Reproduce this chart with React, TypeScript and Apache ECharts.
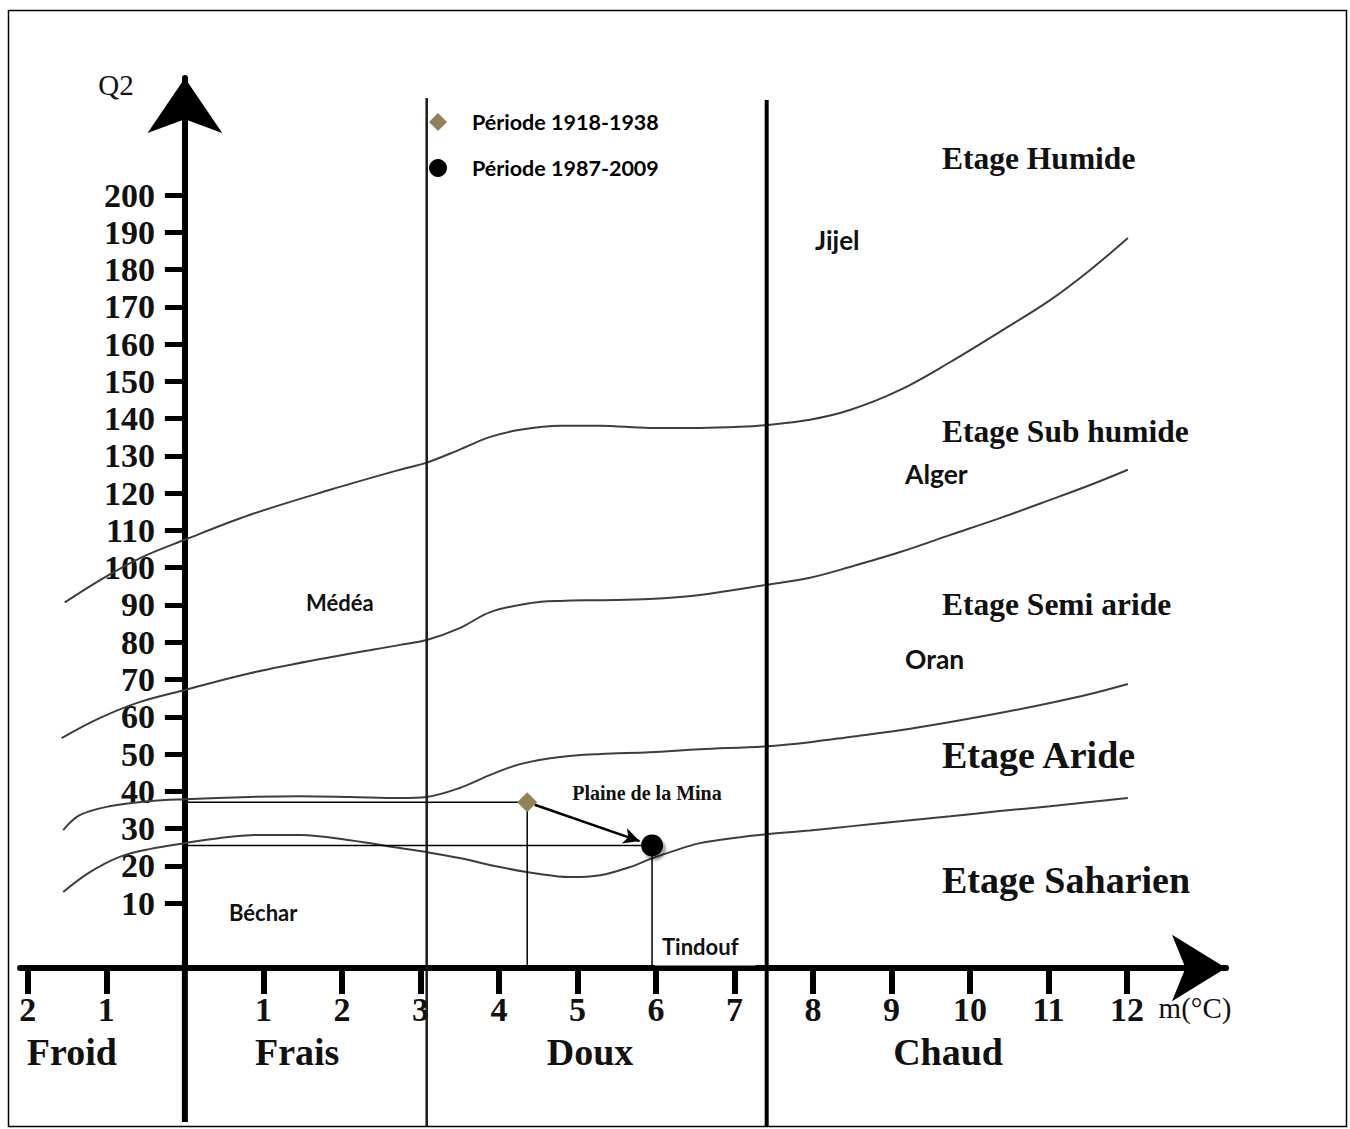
import React, { useEffect, useRef } from 'react';
import * as echarts from 'echarts';

// Axis ranges (m in °C on x, Q2 on y)
const X_MIN = -2.1;
const X_MAX = 13.26;
const Y_MIN = -7.4;
const Y_MAX = 231.4;
const X_TICKS = [-2, -1, 1, 2, 3, 4, 5, 6, 7, 8, 9, 10, 11, 12];
const Y_TICKS = [10, 20, 30, 40, 50, 60, 70, 80, 90, 100, 110, 120, 130, 140, 150, 160, 170, 180, 190, 200];

// Boundary curves between bioclimatic stages [m, Q2]
const LIMIT_HUMIDE_SUBHUMIDE: [number, number][] = [
  [-1.53, 90.7], [-1.08, 96.7], [-0.57, 102.6], [0, 107.5], [0.83, 114.2], [1.85, 120.9],
  [2.74, 126.3], [3.08, 128.2], [3.5, 131.7], [3.89, 135.1], [4.27, 137.0], [4.78, 138.1],
  [5.29, 138.1], [5.92, 137.5], [6.56, 137.5], [7.07, 137.8], [7.41, 138.3], [7.96, 139.7],
  [8.47, 142.3], [9.11, 147.7], [9.75, 155.2], [10.38, 163.3], [11.02, 171.8], [11.53, 179.9], [12.01, 188.5],
];
const LIMIT_SUBHUMIDE_SEMIARIDE: [number, number][] = [
  [-1.57, 54.3], [-1.08, 59.7], [-0.57, 64.0], [0, 67.2], [0.83, 71.7], [1.85, 76.0],
  [2.74, 79.3], [3.08, 80.6], [3.5, 83.8], [3.89, 88.1], [4.4, 90.5], [4.78, 91.1],
  [5.29, 91.3], [5.92, 91.6], [6.56, 92.7], [7.41, 95.4], [7.96, 97.3], [8.47, 100.2],
  [9.11, 104.2], [9.75, 108.8], [10.38, 113.3], [11.02, 118.2], [11.53, 122.2], [12.01, 126.3],
];
const LIMIT_SEMIARIDE_ARIDE: [number, number][] = [
  [-1.55, 29.6], [-1.34, 33.6], [-0.96, 36.0], [-0.45, 37.4], [0, 37.9], [0.83, 38.5],
  [1.46, 38.7], [2.1, 38.5], [2.74, 38.2], [3.08, 38.5], [3.5, 40.9], [3.89, 44.4],
  [4.27, 47.3], [4.78, 49.2], [5.29, 50.0], [5.92, 50.5], [6.56, 51.3], [7.41, 52.1],
  [7.96, 53.2], [8.47, 54.6], [9.11, 56.4], [9.75, 58.6], [10.38, 61.0], [11.02, 63.7],
  [11.53, 66.1], [12.01, 68.8],
];
const LIMIT_ARIDE_SAHARIEN: [number, number][] = [
  [-1.55, 13.0], [-1.21, 18.3], [-0.83, 22.4], [-0.45, 24.5], [0, 26.1], [0.45, 27.5],
  [0.96, 28.3], [1.47, 28.3], [2.1, 26.9], [2.74, 24.8], [3.08, 23.7], [3.5, 22.1],
  [4.01, 19.7], [4.52, 17.8], [4.9, 17.0], [5.29, 17.5], [5.67, 19.7], [5.92, 21.8],
  [6.18, 23.7], [6.56, 26.1], [7.07, 27.7], [7.41, 28.5], [7.96, 29.5], [8.47, 30.6],
  [9.11, 32.0], [9.75, 33.3], [10.38, 34.7], [11.02, 36.0], [12.01, 38.2],
];

// Plaine de la Mina
const POINT_1918: [number, number] = [4.36, 37.1];
const POINT_1987: [number, number] = [5.95, 25.5];
const SERIES_NAMES = ['Période 1918-1938', 'Période 1987-2009'];

// Thermal class separators and labels
const SEPARATORS = [3.08, 7.41];
const CLASS_NAMES = ['Froid', 'Frais', 'Doux', 'Chaud'];
const CLASS_CENTERS = [-1.44, 1.43, 5.16, 9.72];

const STAGE_LABELS = ['Etage Humide', 'Etage Sub humide', 'Etage Semi aride', 'Etage Aride', 'Etage Saharien'];
const STATION_LABELS = ['Jijel', 'Alger', 'Oran', 'Médéa', 'Béchar', 'Tindouf'];

const SERIF = '"Liberation Serif", "Times New Roman", serif';
const SANS = 'Lato, "Noto Sans", sans-serif';

const GRID_LEFT = 20;

const curve = (name: string, data: [number, number][]) => ({
  name,
  type: 'line',
  data,
  smooth: 0.35,
  showSymbol: false,
  silent: true,
  z: 1,
  lineStyle: { color: '#3d3d3d', width: 2 },
});

const guide = (p: [number, number]) => [[0, p[1]], [p[0], p[1]], [p[0], Y_MIN]];

export default function App() {
  const ref = useRef<HTMLDivElement>(null);

  useEffect(() => {
    if (!ref.current) return;
    const chart = echarts.init(ref.current, null, { renderer: 'svg' });
    const dx = POINT_1987[0] - POINT_1918[0];
    const dy = POINT_1987[1] - POINT_1918[1];
    const arrowStart = [POINT_1918[0] + dx * 0.06, POINT_1918[1] + dy * 0.06];
    const arrowEnd = [POINT_1918[0] + dx * 0.9, POINT_1918[1] + dy * 0.9];

    const option: any = {
      animation: false,
      backgroundColor: '#ffffff',
      grid: { left: GRID_LEFT, right: 124, top: 78, bottom: 161, containLabel: false, outerBoundsMode: 'none' },
      legend: {
        data: SERIES_NAMES,
        orient: 'vertical',
        left: 424,
        top: 106,
        itemWidth: 18,
        itemHeight: 18,
        itemGap: 24,
        textStyle: { fontFamily: SANS, fontWeight: 'bold', fontSize: 21.5, color: '#000', padding: [0, 0, 0, 20] },
        selectedMode: false,
      },
      xAxis: {
        type: 'value',
        min: X_MIN,
        max: X_MAX,
        splitLine: { show: false },
        axisLine: {
          onZero: false,
          lineStyle: { color: '#000', width: 6 },
          symbol: ['none', 'arrow'],
          symbolSize: [50, 54],
        },
        axisTick: { customValues: X_TICKS, length: 26, lineStyle: { color: '#000', width: 6 } },
        axisLabel: {
          customValues: X_TICKS,
          formatter: (v: number) => String(Math.abs(v)),
          margin: 24,
          fontFamily: SERIF,
          fontWeight: 'bold',
          fontSize: 34,
          color: '#111',
        },
      },
      yAxis: {
        type: 'value',
        min: Y_MIN,
        max: Y_MAX,
        splitLine: { show: false },
        axisLine: {
          onZero: true,
          lineStyle: { color: '#000', width: 6 },
          symbol: ['none', 'arrow'],
          symbolSize: [56, 55],
        },
        axisTick: { customValues: Y_TICKS, length: 20, lineStyle: { color: '#000', width: 5 } },
        axisLabel: {
          customValues: Y_TICKS,
          // labels stay at the grid edge; shift them next to the axis crossing at m = 0
          margin: GRID_LEFT - 155,
          fontFamily: SERIF,
          fontWeight: 'bold',
          fontSize: 34,
          color: '#111',
        },
      },
      series: [
        curve('Humide / Sub humide', LIMIT_HUMIDE_SUBHUMIDE),
        curve('Sub humide / Semi aride', LIMIT_SUBHUMIDE_SEMIARIDE),
        curve('Semi aride / Aride', LIMIT_SEMIARIDE_ARIDE),
        curve('Aride / Saharien', LIMIT_ARIDE_SAHARIEN),
        {
          name: 'guide 1918',
          type: 'line',
          data: guide(POINT_1918),
          showSymbol: false,
          silent: true,
          z: 2,
          lineStyle: { color: '#000', width: 1.5 },
          markLine: {
            silent: true,
            symbol: ['none', 'arrow'],
            symbolSize: [12, 16],
            label: { show: false },
            lineStyle: { color: '#000', width: 2.5, type: 'solid' },
            data: [[{ coord: arrowStart }, { coord: arrowEnd }]],
          },
        },
        {
          name: 'guide 1987',
          type: 'line',
          data: guide(POINT_1987),
          showSymbol: false,
          silent: true,
          z: 2,
          lineStyle: { color: '#000', width: 1.5 },
        },
        {
          name: SERIES_NAMES[0],
          type: 'scatter',
          data: [POINT_1918],
          symbol: 'diamond',
          symbolSize: 20,
          z: 5,
          itemStyle: { color: '#8f8458', opacity: 1 },
        },
        {
          name: SERIES_NAMES[1],
          type: 'scatter',
          data: [POINT_1987],
          symbol: 'circle',
          symbolSize: 22,
          z: 5,
          itemStyle: {
            color: '#000',
            opacity: 1,
            shadowColor: 'rgba(0,0,0,0.35)',
            shadowOffsetX: 3,
            shadowOffsetY: 4,
            shadowBlur: 2,
          },
        },
      ],
    };
    chart.setOption(option);

    const px = (v: number) => chart.convertToPixel({ xAxisIndex: 0 }, v) as number;
    const text = (t: string, x: number, y: number, font: string, size: number, weight: string, align = 'left', extra: any = {}) => ({
      type: 'text',
      x,
      y,
      z: 10,
      style: { text: t, fontFamily: font, fontSize: size, fontWeight: weight, fill: '#111', align, verticalAlign: 'middle', ...extra },
    });

    const graphic: any[] = [
      {
        type: 'rect',
        z: 20,
        shape: { x: 8.5, y: 10.5, width: 1338, height: 1116 },
        style: { fill: 'none', stroke: '#000', lineWidth: 1.5 },
      },
      {
        type: 'line',
        z: 3,
        shape: { x1: px(0), y1: 960, x2: px(0), y2: 1122 },
        style: { stroke: '#000', lineWidth: 6 },
      },
      {
        type: 'line',
        z: 3,
        shape: { x1: px(SEPARATORS[0]), y1: 98, x2: px(SEPARATORS[0]), y2: 1127 },
        style: { stroke: '#1a1a1a', lineWidth: 2.5 },
      },
      {
        type: 'line',
        z: 3,
        shape: { x1: px(SEPARATORS[1]), y1: 100, x2: px(SEPARATORS[1]), y2: 1127 },
        style: { stroke: '#000', lineWidth: 4 },
      },
      text('Q2', 116, 85, SERIF, 29, 'normal', 'center'),
      text('m(°C)', 1195, 1008, SERIF, 29, 'normal', 'center'),
      text(STAGE_LABELS[0], 942, 158, SERIF, 31.5, 'bold'),
      text(STAGE_LABELS[1], 942, 431, SERIF, 31.5, 'bold'),
      text(STAGE_LABELS[2], 942, 604, SERIF, 31.5, 'bold'),
      text(STAGE_LABELS[3], 942, 755, SERIF, 38, 'bold'),
      text(STAGE_LABELS[4], 942, 880, SERIF, 38, 'bold'),
      text(STATION_LABELS[0], 815, 240, SANS, 26, 'bold'),
      text(STATION_LABELS[1], 905, 474, SANS, 26.5, 'bold'),
      text(STATION_LABELS[2], 905, 659, SANS, 26.5, 'bold'),
      text(STATION_LABELS[3], 306, 602, SANS, 22, 'bold'),
      text(STATION_LABELS[4], 229, 912, SANS, 22, 'bold'),
      text(STATION_LABELS[5], 655, 946, SANS, 22, 'bold', 'left', {
        backgroundColor: '#fff',
        padding: [8, 17, 9, 7],
      }),
      text('Plaine de la Mina', 647, 793, SERIF, 20, 'bold', 'center'),
      ...CLASS_NAMES.map((n, i) => text(n, px(CLASS_CENTERS[i]), 1052, SERIF, 38, 'bold', 'center')),
    ];
    chart.setOption({ graphic });

    return () => chart.dispose();
  }, []);

  return (
    <div
      ref={ref}
      style={{ position: 'absolute', left: 0, top: 0, width: 1350, height: 1129, background: '#fff' }}
    />
  );
}
